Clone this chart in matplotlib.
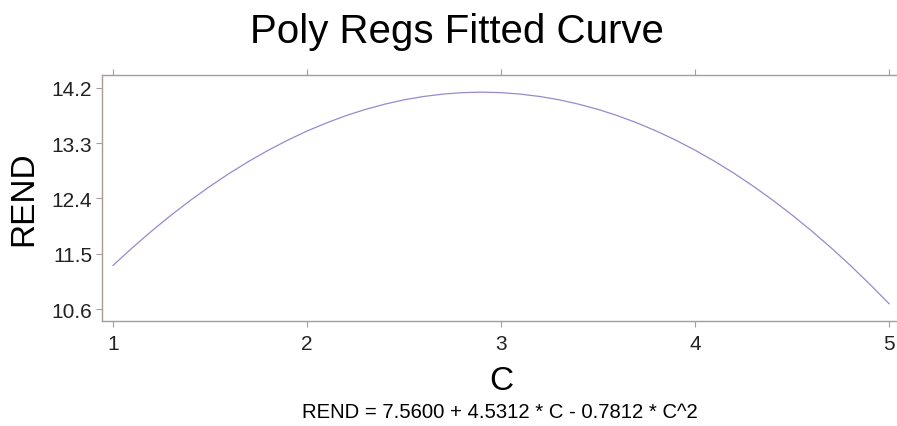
import numpy as np
import matplotlib.pyplot as plt

plt.rcParams['font.family'] = ['Liberation Sans', 'DejaVu Sans']

# values
c_vals = [1.0, 1.1, 1.2, 1.3, 1.4, 1.5, 1.6, 1.7, 1.8, 1.9,
          2.0, 2.1, 2.2, 2.3, 2.4, 2.5, 2.6, 2.7, 2.8, 2.9,
          3.0, 3.1, 3.2, 3.3, 3.4, 3.5, 3.6, 3.7, 3.8, 3.9,
          4.0, 4.1, 4.2, 4.3, 4.4, 4.5, 4.6, 4.7, 4.8, 4.9, 5.0]
rend_vals = [11.310, 11.599, 11.873, 12.130, 12.373, 12.599, 12.810, 13.005, 13.185, 13.349,
             13.498, 13.630, 13.748, 13.849, 13.935, 14.006, 14.060, 14.099, 14.123, 14.131,
             14.123, 14.099, 14.060, 14.006, 13.935, 13.850, 13.748, 13.631, 13.498, 13.350,
             13.186, 13.006, 12.811, 12.600, 12.373, 12.131, 11.873, 11.600, 11.311, 11.006, 10.686]
x_ticks = [1, 2, 3, 4, 5]
y_ticks = [10.6, 11.5, 12.4, 13.3, 14.2]
equation = "REND = 7.5600 + 4.5312 * C - 0.7812 * C^2"

fig = plt.figure(figsize=(8.97, 4.27), dpi=100)
ax = fig.add_axes([0.1137, 0.2459, 0.8896, 0.5761])

ax.plot(c_vals, rend_vals, color='#9a88cc', linewidth=0.9)

ax.set_xlim(0.943, 5.056)
ax.set_ylim(10.405, 14.41)
ax.set_xticks(x_ticks)
ax.set_yticks(y_ticks)
ax.set_yticklabels([f"{v:.1f}" for v in y_ticks])

for s in ax.spines.values():
    s.set_color('#a89c98')
    s.set_linewidth(1.0)
ax.spines['right'].set_visible(False)

ax.tick_params(axis='both', direction='out', length=4, width=0.8, color='#a89c98',
               labelsize=15, labelcolor='#222222', pad=3)
ax.tick_params(axis='x', top=True, pad=5)

ax.set_xlabel("C", fontsize=24, labelpad=9)
ax.set_ylabel("REND", fontsize=24, labelpad=9)

fig.text(0.509, 0.899, "Poly Regs Fitted Curve", fontsize=29, ha='center', va='baseline')
fig.text(0.557, 0.035, equation, fontsize=14.6, ha='center', va='center')

fig.savefig("out.png", dpi=100)
